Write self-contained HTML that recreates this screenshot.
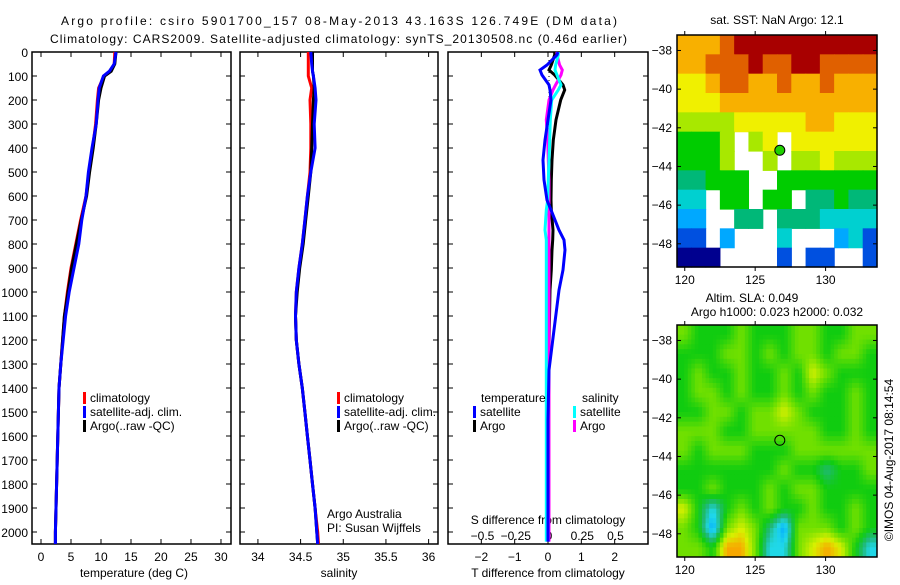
<!DOCTYPE html>
<html><head><meta charset="utf-8"><style>
body{margin:0;background:#fff;}
svg text{font-family:"Liberation Sans",sans-serif;font-size:12px;fill:#000;}
</style></head><body>
<svg id="c" width="900" height="580" xmlns="http://www.w3.org/2000/svg">
<text x="61" y="25" font-size="13.5" textLength="556" lengthAdjust="spacing">Argo profile: csiro 5901700_157 08-May-2013 43.163S 126.749E (DM data)</text>
<text x="50" y="43" font-size="13.5" textLength="577" lengthAdjust="spacing">Climatology: CARS2009. Satellite-adjusted climatology: synTS_20130508.nc (0.46d earlier)</text>
<g id="g"></g>
</svg>
<script>
// ---- data ----
const depths=[0,50,80,100,150,200,300,400,500,600,700,800,900,1000,1100,1200,1300,1400,1500,1600,1700,1800,1900,2000,2050];
const tClim=[12.3,12.2,11.6,10.5,9.6,9.4,9.1,8.6,8.0,7.5,6.6,5.8,5.0,4.4,3.9,3.6,3.3,3.0,2.9,2.8,2.7,2.6,2.5,2.4,2.4];
const tSat=[12.5,12.2,11.4,10.4,9.7,9.5,9.2,8.5,7.9,7.5,6.8,6.3,5.5,4.7,4.1,3.7,3.3,3.0,2.9,2.8,2.7,2.6,2.5,2.4,2.4];
const tArgo=[12.5,12.3,11.7,10.6,10.0,9.6,9.2,8.7,8.1,7.6,6.7,5.9,5.1,4.5,3.9,3.6,3.3,3.0,2.9,2.8,2.7,2.6,2.5,2.4,2.4];
const sClim=[34.59,34.59,34.59,34.59,34.63,34.61,34.62,34.62,34.61,34.58,34.55,34.52,34.48,34.45,34.44,34.45,34.48,34.52,34.55,34.58,34.61,34.64,34.67,34.70,34.71];
const sSat=[34.62,34.63,34.64,34.65,34.67,34.68,34.66,34.67,34.62,34.58,34.55,34.52,34.48,34.45,34.44,34.45,34.48,34.52,34.55,34.58,34.61,34.64,34.67,34.69,34.70];
const sArgo=[34.64,34.64,34.64,34.65,34.66,34.65,34.64,34.63,34.62,34.59,34.56,34.53,34.49,34.46,34.44,34.45,34.48,34.52,34.55,34.58,34.61,34.64,34.67,34.69,34.70];
const dDepths=[0,12,54,75,96,137,158,200,283,367,450,533,617,658,742,783,825,908,992,1158,1325,1533,1867,2040];
const dTSat=[0.3,0.27,-0.03,-0.24,-0.18,0.03,0.06,0.09,0,-0.09,-0.15,-0.12,-0.03,0.09,0.33,0.48,0.51,0.45,0.33,0.18,0.03,0,0,0];
const dTArgo=[0.2,0.2,0.1,0.03,0.2,0.45,0.5,0.38,0.24,0.16,0.12,0.1,0.09,0.1,0.15,0.14,0.12,0.1,0.06,0.04,0.02,0.01,0,0];
const dSSat=[0.07,0.07,0.05,0.045,0.06,0.09,0.07,0.02,0.01,0.005,0,-0.005,-0.01,-0.02,-0.03,-0.02,-0.02,-0.02,-0.02,-0.02,-0.02,-0.02,-0.02,-0.02];
const dSArgo=[0.06,0.06,0.08,0.1,0.09,0.05,0.03,0,-0.02,-0.01,-0.005,0,0,0,0,0,0,0,0,0,0,0,0,0];
const depthTicks=[0,100,200,300,400,500,600,700,800,900,1000,1100,1200,1300,1400,1500,1600,1700,1800,1900,2000];
const tTicks=[0,5,10,15,20,25,30];
const sTicks=[34,34.5,35,35.5,36];
const dTTicks=[-2,-1,0,1,2];
const dSTicks=[-0.5,-0.25,0,0.25,0.5];
const latTicks=[-38,-40,-42,-44,-46,-48];
const lonTicks=[120,125,130];
const sstGrid=[
[8,8,8,9,10,10,10,10,10,10,10,10,10,10],
[8,8,9,9,9,10,9,9,10,10,9,9,9,9],
[7,7,8,9,9,8,8,9,8,8,9,8,8,8],
[7,7,7,8,8,8,8,8,8,8,8,8,8,8],
[6,6,6,6,7,7,7,7,7,8,8,7,7,7],
[5,5,5,6,-1,6,7,-1,7,7,7,7,7,7],
[5,5,5,6,-1,-1,6,-1,6,6,7,6,6,6],
[4,4,5,5,5,-1,-1,5,5,5,5,5,5,5],
[3,3,-1,5,5,-1,5,5,-1,4,4,5,4,4],
[2,2,-1,-1,4,4,-1,4,4,4,3,3,3,3],
[1,1,-1,2,-1,-1,-1,3,-1,-1,-1,2,3,1],
[0,0,0,-1,-1,-1,-1,1,-1,1,1,-1,-1,1]];
const slaGrid=[
[6,5,5,5,6,5,5,5,6,6,5,5,6,6],
[5,5,5,6,6,5,6,5,6,6,5,6,6,5],
[5,6,5,5,6,5,5,6,5,7,6,5,5,5],
[5,6,6,5,6,5,5,6,5,6,5,5,6,5],
[5,5,6,6,5,6,6,7,6,5,5,5,6,5],
[6,6,6,5,5,6,6,6,6,6,5,5,6,5],
[6,5,6,6,6,5,5,5,6,6,6,6,6,6],
[5,5,5,5,5,5,5,6,5,5,4,5,5,6],
[5,5,6,5,5,5,6,5,6,6,5,5,5,5],
[7,5,3,5,6,5,6,5,5,6,5,5,6,5],
[6,5,2,6,7,6,4,2,6,6,6,5,6,5],
[6,6,5,8,8,6,3,3,6,7,8,7,5,3]];
const argoLon=126.749, argoLat=-43.163;
// ---- drawing ----
const NS="http://www.w3.org/2000/svg";
const G=document.getElementById('g');
function el(t,a,p){const e=document.createElementNS(NS,t);for(const k in a)e.setAttribute(k,a[k]);(p||G).appendChild(e);return e;}
const yD=d=>52+d*0.24;
const P1={x0:32,x1:231,v0:-1.5,v1:31.67},P2={x0:240,x1:438,v0:33.79,v1:36.11},P3={x0:448,x1:648,v0:-3,v1:3};
function sx(P,v){return P.x0+(v-P.v0)/(P.v1-P.v0)*(P.x1-P.x0);}
const sS3=v=>549+133*v;
const TOP=52,BOT=544;
function frame(P,name){
  const r=el('rect',{x:P.x0,y:TOP,width:P.x1-P.x0,height:BOT-TOP,fill:'none',stroke:'#000','stroke-width':1.5});
  
  
  depthTicks.forEach(d=>{const y=yD(d);
    el('line',{x1:P.x0,x2:P.x0+5,y1:y,y2:y,stroke:'#000'});
    el('line',{x1:P.x1-5,x2:P.x1,y1:y,y2:y,stroke:'#000'});});
}
function line(P,xs,ds,col,name,fx){
  const pts=xs.map((v,i)=>(fx?fx(v):sx(P,v)).toFixed(1)+','+yD(ds[i]).toFixed(1)).join(' ');
  const l=el('polyline',{points:pts,fill:'none',stroke:col,'stroke-width':3});
  
  
}
function txt(x,y,s,anchor,name){const t=el('text',{x:x,y:y,'text-anchor':anchor||'start'});t.textContent=s;
  
  return t;}
function xticks(P,ticks,f,name){ticks.forEach(v=>{const x=f(v);
  el('line',{x1:x,x2:x,y1:BOT,y2:BOT-5,stroke:'#000'});el('line',{x1:x,x2:x,y1:TOP,y2:TOP+5,stroke:'#000'});
  txt(x,561,String(v).replace('-','\u2212'),'middle',name);});}
// panel1
frame(P1,'temperature-panel');
depthTicks.forEach(d=>txt(28,yD(d)+5,String(d),'end','depth-tick-label'));
xticks(P1,tTicks,v=>sx(P1,v),'temperature-tick-label');
line(P1,tClim,depths,'#f00','temperature-climatology-line');
line(P1,tArgo,depths,'#000','temperature-argo-line');
line(P1,tSat,depths,'#00f','temperature-satellite-line');
txt(134,577,'temperature (deg C)','middle','temperature-axis-title');
// panel2
frame(P2,'salinity-panel');
xticks(P2,sTicks,v=>sx(P2,v),'salinity-tick-label');
line(P2,sClim,depths,'#f00','salinity-climatology-line');
line(P2,sArgo,depths,'#000','salinity-argo-line');
line(P2,sSat,depths,'#00f','salinity-satellite-line');
txt(339,577,'salinity','middle','salinity-axis-title');
txt(327,518,'Argo Australia','start','institution-label');
txt(327,532,'PI: Susan Wijffels','start','pi-label');
// legends
function leg(x,y,col,s,name){el('rect',{x:x,y:y-10,width:3,height:12,fill:col});txt(x+7,y,s,'start',name);}
[[P1,83],[P2,337]].forEach(([P,x])=>{leg(x,402,'#f00','climatology','legend-climatology');leg(x,416,'#00f','satellite-adj. clim.','legend-satellite-adj');leg(x,430,'#000','Argo(..raw -QC)','legend-argo');});
// panel3
frame(P3,'difference-panel');
el('line',{x1:549,x2:549,y1:60,y2:150,stroke:'#000','stroke-dasharray':'1,3'});
xticks(P3,dTTicks,v=>sx(P3,v),'t-diff-tick-label');
dSTicks.forEach(v=>txt(sS3(v),540,String(v).replace('-','\u2212'),'middle','s-diff-tick-label'));
txt(548,524,'S difference from climatology','middle','s-diff-axis-title');
txt(548,577,'T difference from climatology','middle','t-diff-axis-title');
line(P3,dTArgo,dDepths,'#000','t-diff-argo-line');
line(P3,dSArgo,dDepths,'#f0f','s-diff-argo-line',sS3);
line(P3,dSSat,dDepths,'#0ff','s-diff-satellite-line',sS3);
line(P3,dTSat,dDepths,'#00f','t-diff-satellite-line');
txt(481,402,'temperature','start','legend-temperature-heading');
txt(582,402,'salinity','start','legend-salinity-heading');
leg(473,416,'#00f','satellite','legend-t-satellite');leg(473,430,'#000','Argo','legend-t-argo');
leg(573,416,'#0ff','satellite','legend-s-satellite');leg(573,430,'#f0f','Argo','legend-s-argo');
// maps
const cmap=['#00008f','#0050e0','#00a8ff','#00d0d0','#00b878','#00cc00','#a8e800','#f0f000','#f8b000','#e06000','#a80000'];
const slaRGB=[[0,0,143],[0,80,224],[0,168,255],[32,216,232],[32,184,120],[16,204,16],[112,224,0],[216,240,0],[248,168,0]];
function slaColor(v){const i=Math.max(0,Math.min(7,Math.floor(v))),f=Math.max(0,Math.min(1,v-i));const a=slaRGB[i],b=slaRGB[i+1];
  return 'rgb('+a.map((c,k)=>Math.round(c+(b[k]-c)*f)).join(',')+')';}
function map(y0,grid,name,filledMarker,smooth){
  const x0=677,w=200,h=232,lon0=119.45,lon1=133.65,lat0=-37.2,lat1=-49.2;
  const lx=v=>x0+(v-lon0)/(lon1-lon0)*w, ly=v=>y0+(v-lat0)/(lat1-lat0)*h;
  const rows=grid.length,cols=grid[0].length,cw=w/cols,ch=h/rows;
  const g=el('g',{});
  if(!smooth){
    grid.forEach((r,i)=>r.forEach((v,j)=>{if(v<0)return;
      el('rect',{x:(x0+j*cw).toFixed(2),y:(y0+i*ch).toFixed(2),width:(cw+0.6).toFixed(2),height:(ch+0.6).toFixed(2),fill:cmap[v]},g);}));
  } else {
    const n=4,sw=cw/n,sh=ch/n;
    for(let a=0;a<rows*n;a++)for(let b=0;b<cols*n;b++){
      const fy=Math.max(0,Math.min(rows-1,(a+0.5)/n-0.5)),fx=Math.max(0,Math.min(cols-1,(b+0.5)/n-0.5));
      const i0=Math.floor(fy),j0=Math.floor(fx),i1=Math.min(rows-1,i0+1),j1=Math.min(cols-1,j0+1),ty=fy-i0,tx=fx-j0;
      const v=(grid[i0][j0]*(1-tx)+grid[i0][j1]*tx)*(1-ty)+(grid[i1][j0]*(1-tx)+grid[i1][j1]*tx)*ty;
      el('rect',{x:(x0+b*sw).toFixed(2),y:(y0+a*sh).toFixed(2),width:(sw+0.5).toFixed(2),height:(sh+0.5).toFixed(2),fill:slaColor(v)},g);
    }
  }
  el('rect',{x:x0,y:y0,width:w,height:h,fill:'none',stroke:'#000','stroke-width':1.5});
  latTicks.forEach(v=>{const y=ly(v);el('line',{x1:x0,x2:x0+4,y1:y,y2:y,stroke:'#000'});el('line',{x1:x0+w-4,x2:x0+w,y1:y,y2:y,stroke:'#000'});
    txt(x0-5,y+4,String(v).replace('-','\u2212'),'end','latitude-tick-label');});
  lonTicks.forEach(v=>{const x=lx(v);el('line',{x1:x,x2:x,y1:y0,y2:y0-4,stroke:'#000'});el('line',{x1:x,x2:x,y1:y0+h,y2:y0+h+4,stroke:'#000'});
    txt(x,y0+h+17,String(v),'middle','longitude-tick-label');});
  const c=el('circle',{cx:lx(argoLon),cy:ly(argoLat),r:5,fill:filledMarker?'#20d000':'none',stroke:'#000','stroke-width':1});
  
  
}
map(35,sstGrid,'sst-map',true,false);
map(325,slaGrid,'sla-map',false,true);
txt(777,24,'sat. SST: NaN Argo: 12.1','middle','sst-map-title');
txt(752,302,'Altim. SLA: 0.049','middle','sla-map-title');
txt(777,316,'Argo h1000: 0.023 h2000: 0.032','middle','argo-height-label');
const cr=txt(0,0,'\u00a9IMOS 04-Aug-2017 08:14:54','middle','timestamp-credit');
cr.setAttribute('transform','translate(893,460) rotate(-90)');
</script>
</body></html>
